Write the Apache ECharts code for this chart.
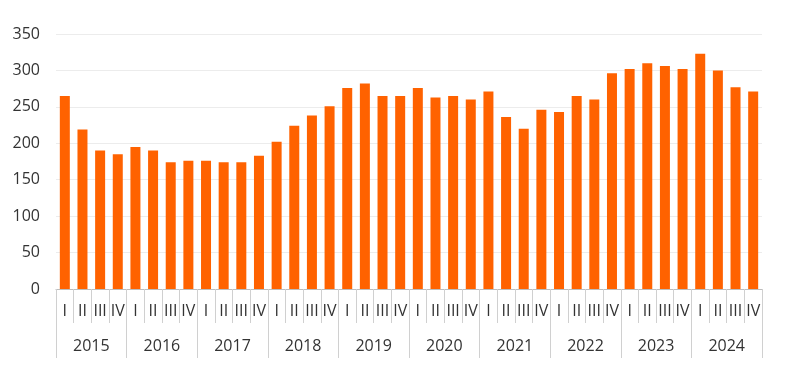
<!DOCTYPE html>
<html>
<head>
<meta charset="utf-8">
<script src="https://cdn.jsdelivr.net/npm/echarts@6/dist/echarts.min.js"></script>
<style>
html,body{margin:0;padding:0;background:#fff;}
#chart{width:800px;height:369px;}
</style>
</head>
<body>
<div id="chart"></div>
<script>
var years = ['2015','2016','2017','2018','2019','2020','2021','2022','2023','2024'];
var quarterNames = ['I','II','III','IV'];
var values = [
  265, 219, 190, 185,
  195, 190, 174, 176,
  176, 174, 174, 183,
  202, 224, 238, 251,
  276, 282, 265, 265,
  276, 263, 265, 260,
  271, 236, 220, 246,
  243, 265, 260, 296,
  302, 310, 306, 302,
  323, 300, 277, 271
];
var yTicks = [0, 50, 100, 150, 200, 250, 300, 350];

var categories = [];
years.forEach(function (y) {
  quarterNames.forEach(function (q) { categories.push(y + ' ' + q); });
});

var FONT = '"Open Sans", "Noto Sans", sans-serif';
var chart = echarts.init(document.getElementById('chart'), null, {renderer: 'canvas'});
chart.setOption({
  animation: false,
  backgroundColor: '#ffffff',
  grid: {left: 56, right: 38, top: 34, bottom: 80, containLabel: false},
  xAxis: [
    {
      type: 'category',
      data: categories,
      position: 'bottom',
      axisLine: {show: true, lineStyle: {color: '#bdbdbd', width: 1}},
      axisTick: {show: true, length: 34, interval: 0, alignWithLabel: false, lineStyle: {color: '#d0d0d0'}},
      axisLabel: {
        interval: 0, margin: 14, color: '#333333', fontSize: 16, fontFamily: FONT,
        formatter: function (v) { return v.split(' ')[1]; }
      },
      splitLine: {show: false}
    },
    {
      type: 'category',
      data: years,
      position: 'bottom',
      axisLine: {show: false},
      axisTick: {show: true, length: 69, interval: 0, alignWithLabel: false, lineStyle: {color: '#d0d0d0'}},
      axisLabel: {interval: 0, margin: 49, color: '#333333', fontSize: 16, fontFamily: FONT},
      splitLine: {show: false}
    }
  ],
  yAxis: {
    type: 'value',
    min: yTicks[0],
    max: yTicks[yTicks.length - 1],
    interval: 50,
    axisLine: {show: false},
    axisTick: {show: false},
    axisLabel: {margin: 16, color: '#333333', fontSize: 16, fontFamily: FONT},
    splitLine: {show: true, lineStyle: {color: '#ececec', width: 1}}
  },
  series: [{
    type: 'bar',
    xAxisIndex: 0,
    data: values,
    barWidth: 10,
    itemStyle: {color: '#ff6200'}
  }]
});
</script>
</body>
</html>
